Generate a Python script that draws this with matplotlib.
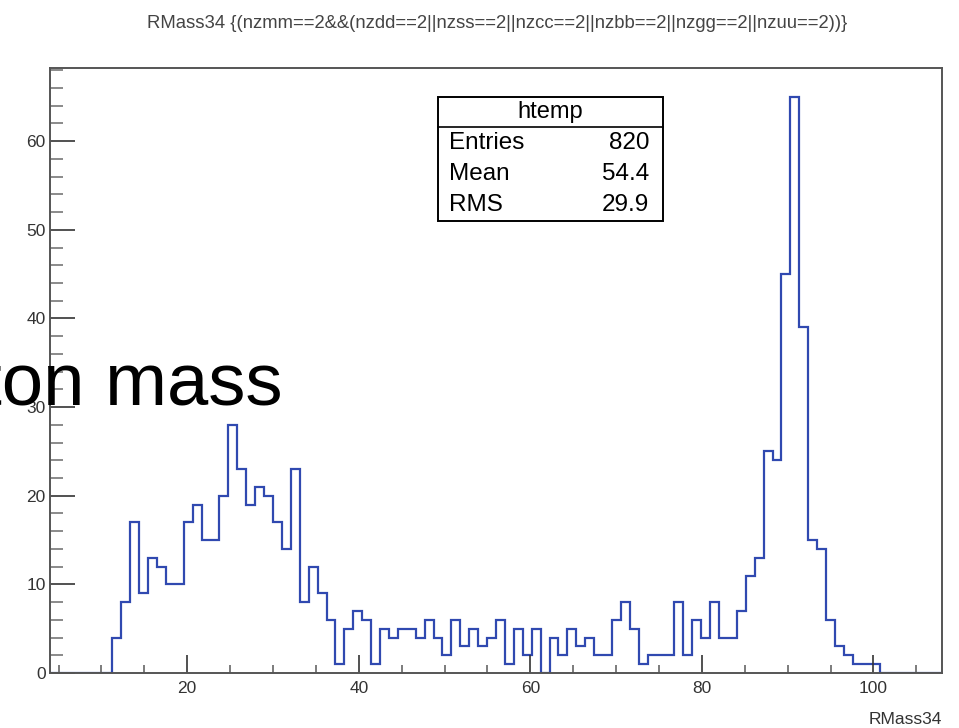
import numpy as np
import matplotlib as mpl
mpl.use('Agg')
import matplotlib.pyplot as plt
from matplotlib.ticker import MultipleLocator

# histogram range and per-bin counts (100 bins)
x_lo = 4.0
x_hi = 108.0
counts = [0, 0, 0, 0, 0, 0, 0,
          4, 8, 17, 9, 13, 12, 10, 10, 17, 19, 15, 15, 20, 28, 23, 19, 21, 20,
          17, 14, 23, 8, 12, 9, 6, 1, 5, 7,
          6, 1, 5, 4, 5, 5, 4, 6, 4, 2, 6, 3, 5, 3, 4, 6, 1, 5, 2, 5, 0, 4, 2,
          5, 3, 4, 2, 2,
          6, 8, 5, 1, 2, 2, 2, 8, 2, 6, 4, 8, 4, 4, 7, 11, 13, 25, 24, 45, 65,
          39, 15, 14, 6, 3, 2, 1, 1, 1,
          0, 0, 0, 0, 0, 0, 0]

title = "RMass34 {(nzmm==2&&(nzdd==2||nzss==2||nzcc==2||nzbb==2||nzgg==2||nzuu==2))}"
stat_names = ["Entries", "Mean", "RMS"]
stat_values = ["820", "54.4", "29.9"]
overlay = "Dilepton mass"

plt.rcParams['font.family'] = ['Liberation Sans', 'DejaVu Sans']

fig = plt.figure(figsize=(9.59, 7.28), dpi=100)
ax = fig.add_axes([0.0521, 0.0755, 0.9302, 0.8311])

edges = np.linspace(x_lo, x_hi, len(counts) + 1)
ax.stairs(counts, edges, color='#3049b0', linewidth=1.6, baseline=0)

ax.set_xlim(x_lo, x_hi)
ax.set_ylim(0, 1.05 * max(counts))

frame = '#555555'
for s in ax.spines.values():
    s.set_color(frame)
    s.set_linewidth(1.4)

ax.xaxis.set_major_locator(MultipleLocator(20))
ax.xaxis.set_minor_locator(MultipleLocator(5))
ax.yaxis.set_major_locator(MultipleLocator(10))
ax.yaxis.set_minor_locator(MultipleLocator(2))
ax.tick_params(axis='x', which='major', direction='in', length=13, width=1.2,
               color='#333333', labelsize=12.5, pad=6, labelcolor='#333333')
ax.tick_params(axis='x', which='minor', direction='in', length=6, width=1.2,
               color='#666666')
ax.tick_params(axis='y', which='major', direction='in', length=18, width=1.2,
               color='#333333', labelsize=12.5, pad=3, labelcolor='#333333')
ax.tick_params(axis='y', which='minor', direction='in', length=9, width=1.2,
               color='#777777')

ax.text(1.0, -0.065, "RMass34", transform=ax.transAxes, ha='right', va='top',
        fontsize=12.5, color='#333333')

fig.text(0.518, 0.968, title, ha='center', va='center', fontsize=13.3,
         color='#444444')

# stats box
bx0, bx1, by0, by1, byh = 0.435, 0.687, 0.747, 0.952, 0.902
ax.add_patch(plt.Rectangle((bx0, by0), bx1 - bx0, by1 - by0, transform=ax.transAxes,
                           facecolor='white', edgecolor='black', linewidth=1.4,
                           zorder=5))
ax.plot([bx0, bx1], [byh, byh], transform=ax.transAxes, color='black',
        linewidth=1.2, zorder=6)
ax.text((bx0 + bx1) / 2, (by1 + byh) / 2, "htemp", transform=ax.transAxes,
        ha='center', va='center', fontsize=17, zorder=7)
row_h = (byh - by0) / len(stat_names)
for i, (n, v) in enumerate(zip(stat_names, stat_values)):
    yy = byh - row_h * (i + 0.5)
    ax.text(bx0 + 0.012, yy, n, transform=ax.transAxes, ha='left', va='center',
            fontsize=17.5, zorder=7)
    ax.text(bx1 - 0.015, yy, v, transform=ax.transAxes, ha='right', va='center',
            fontsize=17.5, zorder=7)

# large overlay label running off the left edge
fig.text(282 / 959, 1 - 405 / 728, overlay, ha='right', va='baseline',
         fontsize=53.5, color='black', zorder=10)

fig.savefig('out.png', dpi=100)
